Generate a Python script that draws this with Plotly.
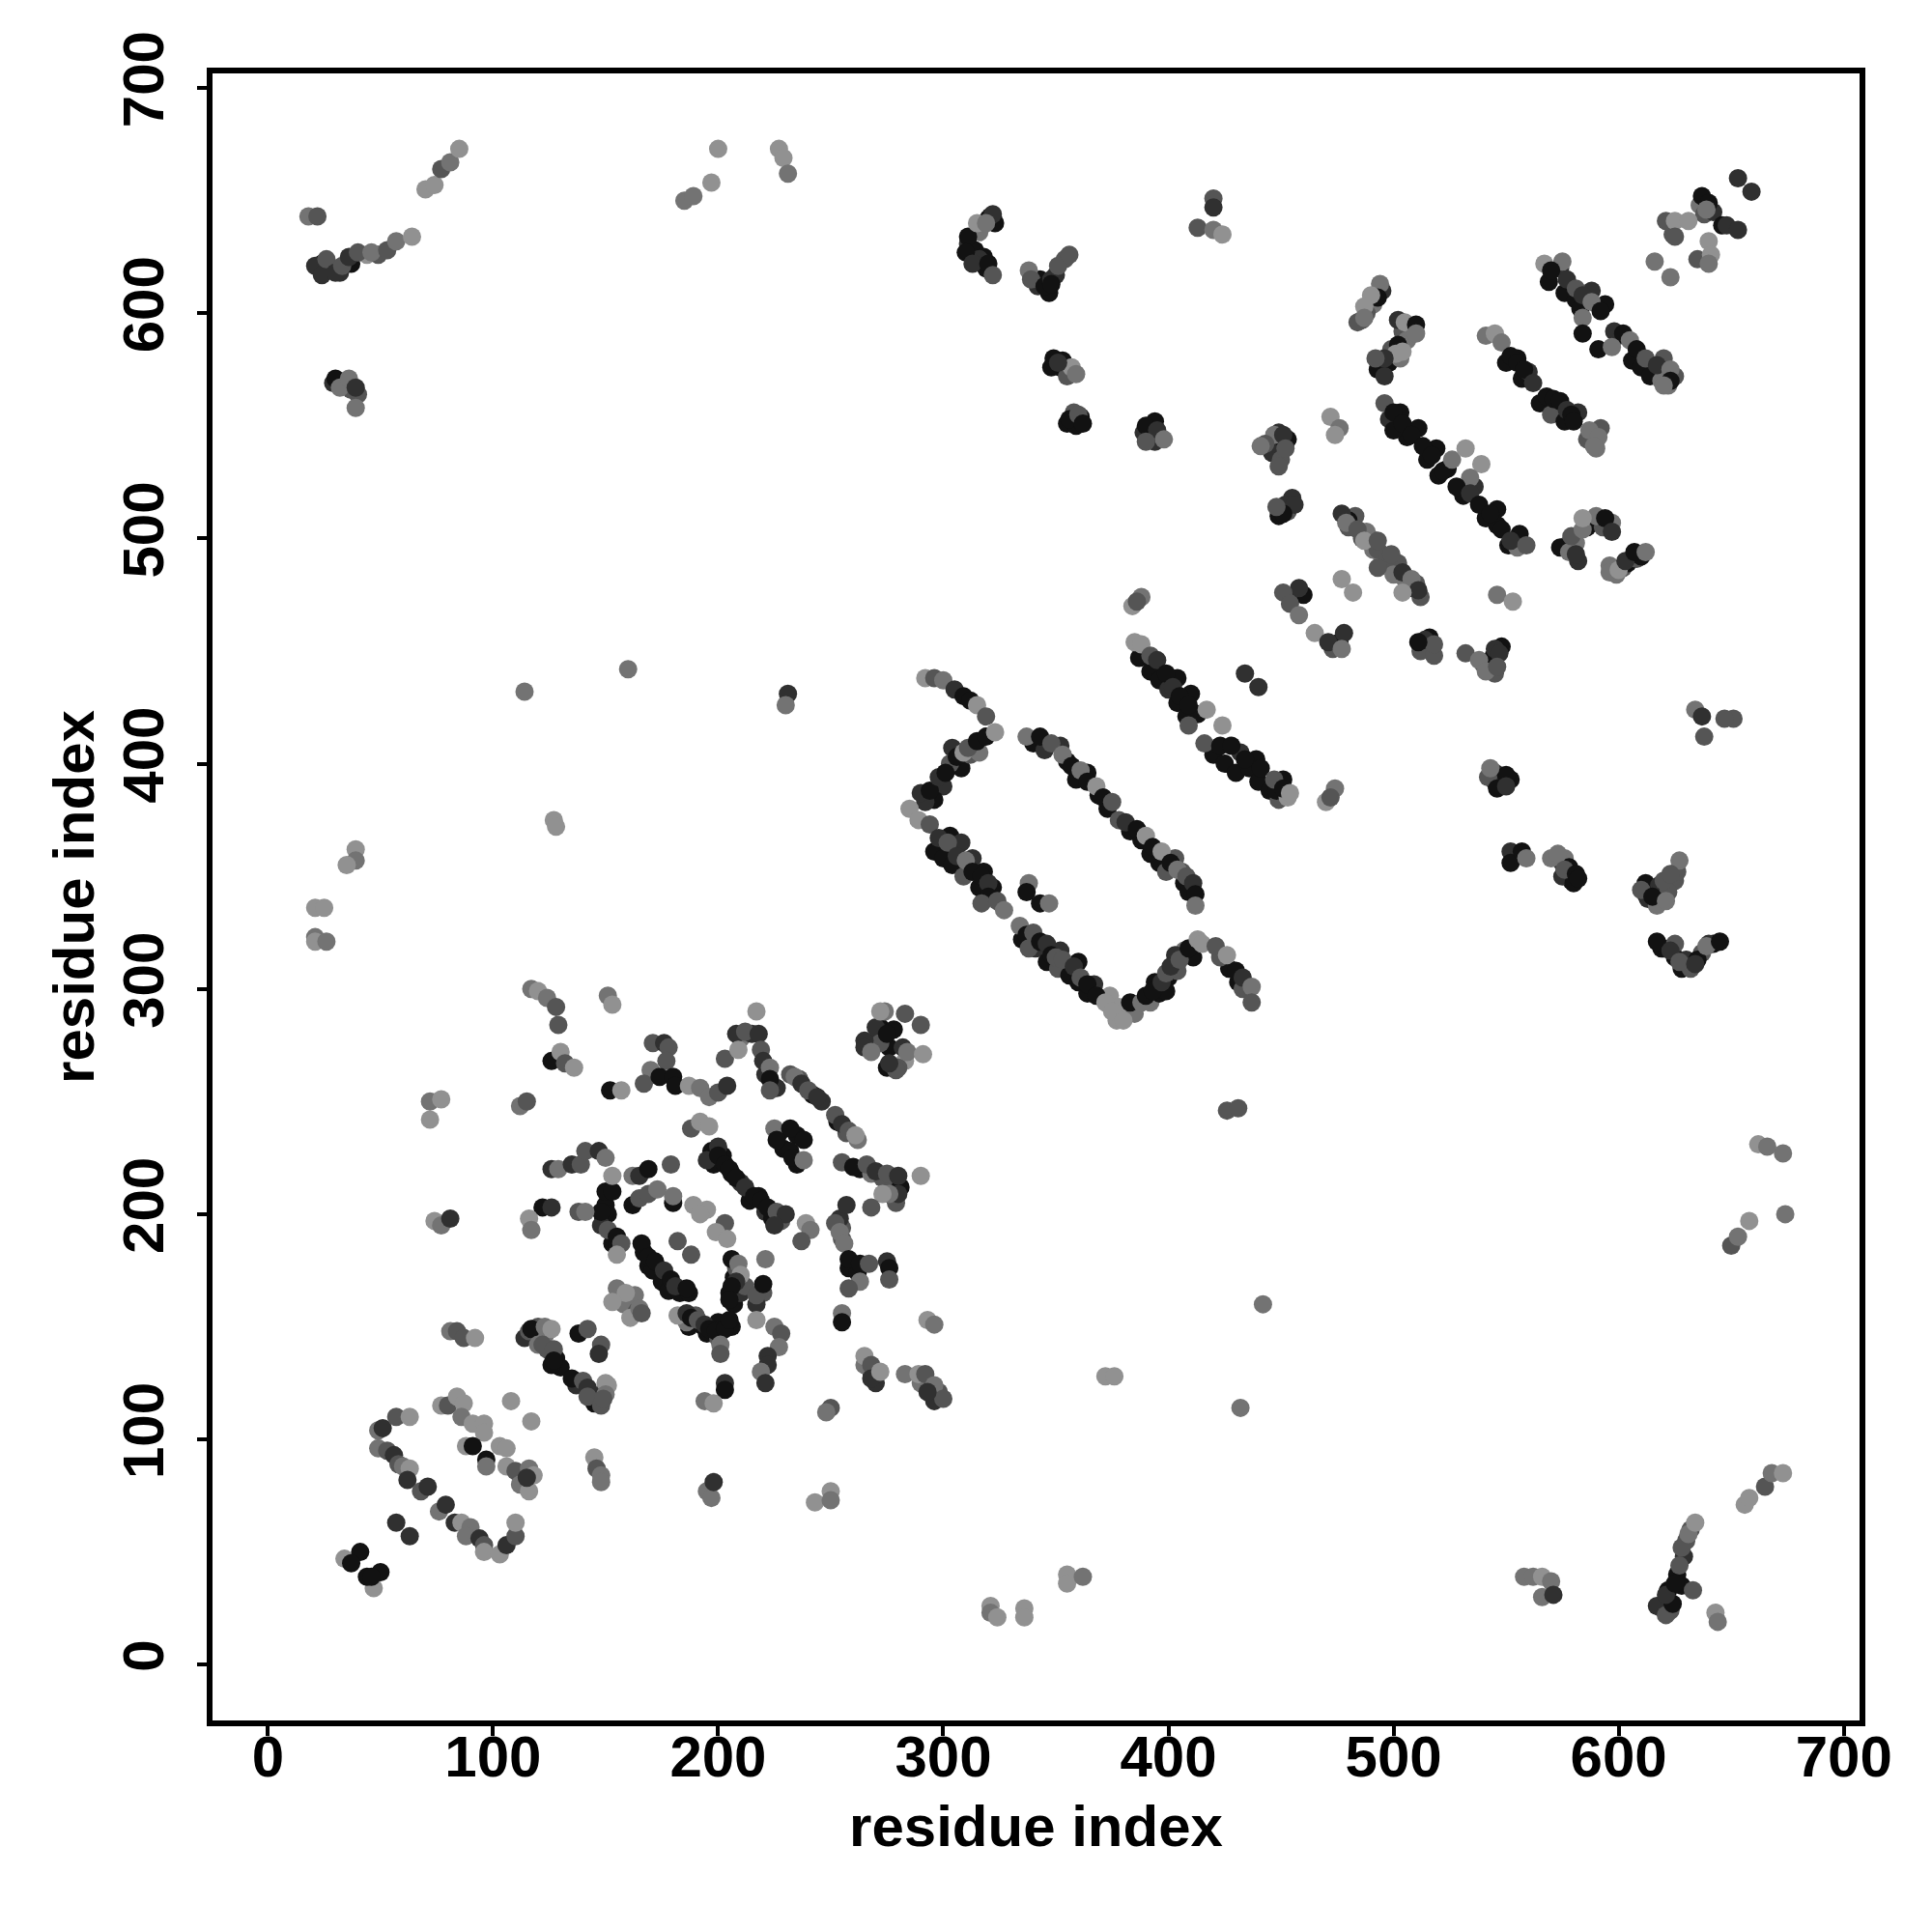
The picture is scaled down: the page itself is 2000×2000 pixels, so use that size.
import plotly.graph_objects as go

# every cluster: (residue i, residue j, grey level)
k, d, m, l, p = 18, 48, 85, 115, 145

band_fill_a = [(498,553,d),(503,556,k),(506,545,k),(511,549,k),(515,535,k),(519,540,k),(524,531,k),(520,528,k),(531,519,k),(536,523,d),(541,509,k),(546,513,k),
               (551,497,k),(556,502,k),(555,496,l),(546,506,k),(500,548,k),(550,578,k),(557,571,k),(555,580,k),(560,574,d),(565,560,k),(570,555,m),(576,552,k),
               (582,556,d),(586,544,m),(590,540,l),(592,549,m),(569,614,k),(574,620,d),(576,609,k),(581,606,k),(583,602,k),(588,610,d),(594,604,k),(600,590,k),
               (606,579,k),(610,576,k),(614,572,k),(619,570,l),(622,568,l),(620,580,m),(625,572,m)]
band_fill_b = [(340,409,k),(345,406,d),(352,408,d),(355,401,k),(359,393,k),(364,396,k),(369,386,k),(373,380,k),(378,375,m),(383,370,k),(388,366,k),(392,360,k),
               (396,356,k),(399,352,m),(403,358,m),(407,347,k),(409,343,k),(406,352,m),(387,447,k),(392,441,k),(396,437,k),(400,433,d),(404,427,k),(408,421,k),
               (404,438,k),(410,431,k),(413,422,k),(420,404,k),(425,400,k),(430,396,k),(436,398,k),(440,392,k),(445,388,k),(449,384,m),(451,393,k),(432,405,d),
               (439,402,k),(448,388,k),(453,385,p)]
band_fill_c = [(308,398,k),(312,404,m),(304,407,d),(300,390,d),(296,384,k),(292,383,d),(303,400,m),(316,405,l),(296,361,k),(300,358,k),(304,355,k),(309,350,m),
               (303,368,k),(308,365,d),(313,358,d),(316,345,k),(322,345,k),(318,352,k),(335,322,k),(341,318,d),(346,312,k),(351,309,m),(356,306,k),(360,303,k),
               (364,298,k),(352,317,d),(360,312,k),(367,302,d),(374,297,p),(378,292,p),(377,286,p),(385,289,l),(392,294,l),(396,298,k),(400,305,k),(404,308,m),
               (394,303,k),(399,299,k),(407,317,l),(403,315,d),(411,314,k),(427,309,k),(431,303,k),(423,314,m),(433,300,m)]
cluster_fill_a = [(311,631,d),(314,628,k),(316,636,l),(318,625,k),(321,643,k),(343,615,k),(347,609,k),(342,612,d),(350,617,d),(354,624,m),(352,576,k),(355,572,m),
                  (348,576,k),(355,551,k),(358,556,m),(359,550,k),(361,554,k),(392,546,k),(389,547,d),(394,543,d),(394,552,k),(24,622,k),(28,620,k),(32,618,d),
                  (37,622,k),(44,626,p),(49,626,m),(29,569,d),(37,566,m),(40,564,m)]
cluster_fill_b = [(545,392,k),(548,393,d),(552,393,k),(545,396,d),(555,360,k),(553,358,k),(576,351,k),(579,348,k),(575,356,d),(612,342,k),(617,340,d),(619,344,k),
                  (625,348,m),(620,318,k),(625,314,k),(630,313,d),(642,320,k),(637,316,m),(540,444,m),(544,447,k),(548,452,k),(545,440,m),(619,25,m),(622,33,k),
                  (623,24,m),(628,35,k),(626,40,k),(629,48,d),(630,55,m),(632,60,m),(633,33,m),(449,510,k),(453,512,m),(455,518,d),(480,505,m),(483,510,m),
                  (488,503,l),(491,495,l),(495,491,l),(502,489,m),(506,478,l),(510,480,m),(455,474,m),(460,475,k),(449,542,k),(446,538,d),(453,544,k),(450,535,m),
                  (473,451,m),(476,454,k),(515,451,k),(516,456,k),(512,450,m),(518,448,m),(449,547,d)]
core_fill = [(210,278,l),(215,280,d),(221,262,d),(226,256,d),(236,260,m),(242,253,k),(246,250,d),(253,241,k),(257,236,m),(262,233,l),(232,262,m),(263,220,k),
             (268,218,l),(273,216,m),(278,214,m),(281,212,k),(279,205,m),(227,236,k),(235,235,k),(229,229,k),(232,228,k),(235,222,k),(197,228,k),(198,222,k),
             (202,226,k),(206,218,k),(210,214,d),(214,206,k),(218,208,k),(221,201,d),(224,198,k),(228,197,m),(167,183,k),(169,177,k),(171,175,k),(175,170,k),
             (178,166,k),(183,165,k),(187,165,k),(150,204,k),(149,198,k),(151,200,k),(148,195,d),(153,187,k),(155,186,k),(258,176,k),(262,174,k),(255,189,m),
             (255,194,m),(254,198,d),(207,172,k),(205,165,k),(207,160,k),(210,165,d),(212,168,m),(208,176,m),(220,165,m),(217,160,d),(187,150,k),(192,151,k),
             (195,147,k),(200,147,k),(206,150,k),(200,152,k),(190,155,m),(186,152,l),(158,160,l),(164,157,m),(163,164,l),(200,145,m),(268,130,d),(265,133,l),
             (270,125,d),(298,121,m),(296,117,d),(290,125,l),(118,146,k),(114,145,d),(120,150,m),(123,146,l),(124,140,m),(128,136,k),(130,132,k),(126,133,k),
             (137,124,d),(143,119,k),(145,116,k),(148,120,d),(151,124,p)]
late_fill = [(268,276,d),(272,283,k),(276,274,k),(270,283,d),(274,290,l),(278,282,k),(283,268,p),(272,276,m),(280,265,m),(275,265,k),(279,264,m),(265,277,d),
             (612,347,k),(618,346,d),(622,343,m),(626,352,m),(613,340,d),(617,337,l),(619,318,k),(628,309,k),(632,309,m),(635,313,k),(640,320,d),(625,320,m),
             (570,358,l),(576,358,l),(578,354,k),(575,350,d),(580,347,k),(480,508,k),(486,500,m),(490,500,l),(493,495,m),(497,490,m),(500,484,l),(505,482,l),
             (509,478,k),(512,474,m),(577,497,m),(581,498,l),(586,505,k),(589,507,k),(593,505,m),(597,507,l),(582,490,d),(599,484,l),(602,487,m),(604,489,k),
             (608,491,m),(610,492,k),(596,488,l),(636,648,l),(638,644,m),(642,645,d),(624,635,m),(495,610,d),(491,604,l),(488,600,m),(486,597,m),(504,592,m),
             (507,590,m),(499,584,m),(495,576,m),(498,578,k),(503,580,l),(493,575,k),(506,588,l),(319,620,k),(316,624,d),(322,643,k),(320,642,k),(323,640,k)]

near_n = [(34,47,p),(47,34,p),(41,50,k),(37,45,k),(44,39,k),(50,41,k),(46,39,k),(57,63,d),(63,57,d)]
hairpin_a = [(49,104,l),(51,105,d),(57,110,m),(63,110,p),(49,96,l),(53,95,m),(56,93,d),(58,89,m),(60,88,l),(63,87,p),(62,82,d),
             (68,77,m),(71,79,d),(76,68,l),(79,71,d),(83,63,d),(86,63,p),(90,61,l),(88,57,l),(94,56,d),(96,53,m),(96,50,p),
             (103,49,p),(106,53,d),(110,57,m),(110,63,p)]
hairpin_b = [(77,115,p),(80,115,m),(84,119,p),(87,116,p),(86,110,l),(91,107,p),(96,107,p),(96,103,p),(88,97,p),(91,97,k),
             (97,91,k),(97,88,l),(103,97,p),(106,96,p),(106,88,p),(110,86,m),(116,87,l),(118,84,p),(112,80,l),(116,77,p),(115,83,d)]
low_bits = [(108,117,p),(117,108,p),(145,92,p),(146,87,m),(148,84,l),(148,81,l),(195,77,l),(197,74,l),(198,81,d),(243,72,p),
            (250,77,p),(250,73,l),(81,148,l),(84,148,m),(87,145,m),(92,145,p)]
block_a = [(116,148,m),(117,149,k),(123,150,l),(126,149,p),(120,142,l),(122,142,m),(127,140,m),(127,135,k),(138,147,k),(142,149,m),
           (148,142,m),(147,138,d),(135,127,k),(140,126,m),(142,123,d),(142,119,m),(148,115,m),(150,125,p),(150,120,l),(149,118,m)]
block_b = [(155,167,l),(159,165,p),(153,161,p),(161,154,p),(165,158,l),(166,156,m),(182,155,p),(186,156,d),(188,154,k),(191,153,m),
           (194,151,d),(196,149,k),(199,148,k),(203,149,k),(205,153,k),(201,142,l),(201,138,m),(203,125,d),(203,122,k),(194,117,l),
           (198,116,p),(217,153,p),(225,150,l),(228,147,m),(227,141,l),(222,137,d),(222,133,d),(219,130,l),(221,125,d),(255,156,l),
           (255,152,k),(265,137,p),(268,133,m),(268,127,d),(272,130,p),(283,129,l),(289,129,p),(292,129,m),(296,124,l),(300,118,m),
           (293,121,d),(250,114,m),(248,112,l),(293,153,p),(296,151,l)]
block_c = [(217,290,p),(208,280,d),(212,281,m),(218,280,d),(203,269,m),(209,273,p),(219,273,m),(220,268,d),(223,265,l),(223,260,k),
           (223,255,m),(234,261,l),(237,258,d),(240,255,m),(244,252,d),(252,244,m),(255,240,d),(258,237,m),(261,235,p),(255,223,m),
           (260,221,k),(266,222,m),(270,219,d),(275,218,m),(280,217,d),(280,209,d),(276,209,l),(273,209,p),(268,203,m),(290,217,p),
           (225,238,l),(232,238,k),(238,233,k),(226,233,k),(233,225,k),(238,224,l)]
central = [(200,230,d),(195,224,d),(200,226,k),(203,222,k),(205,220,k),(208,216,k),(212,212,d),(216,208,k),(219,206,k),(222,203,k),(226,201,m),
           (230,200,d),(225,195,d),(239,196,p),(241,193,l),(237,188,m),(257,204,d),(252,196,m),(254,192,l),(256,187,l),(258,180,k),
           (263,178,k),(267,178,m),(275,179,d),(276,176,k),(276,171,m),(263,170,l),(258,167,m),(221,180,l),(206,180,k),(209,178,l),
           (210,173,p),(208,170,d),(206,168,k),(205,162,k),(217,164,m),(220,169,k),(195,202,p),(189,204,p),(192,200,p),(203,196,m),(199,192,p),
           (204,189,p),(182,188,m),(188,182,m),(166,187,k),(169,181,k),(172,179,k),(176,175,d),(179,171,k),(181,168,d),(186,167,k),(150,210,k),(153,210,k),
           (148,201,k),(151,193,m),(155,190,k),(157,187,m),(155,182,p),(122,203,k),(126,203,d),(138,201,m),(141,201,l)]
left_c = [(116,198,p),(117,193,l),(74,197,p),(77,195,l),(81,198,d),(126,220,d),(129,220,l),(135,222,d),(139,222,m),(141,228,m),(147,228,d),
          (150,225,l),(153,217,p),(162,217,l),(165,217,d),(169,220,k),(179,222,m),(162,204,k),(165,207,m),(169,209,m),(173,211,l),(180,205,k),(180,208,l)]
upper_c = [(171,276,m),(176,276,d),(178,274,m),(177,268,m),(170,264,l),(167,258,m),(174,261,k),(180,261,k),(181,257,k),(187,257,p),(192,256,l),
           (196,252,l),(200,254,m),(204,257,d),(188,238,m),(192,241,p),(196,239,p),(152,255,k),(157,255,p),(112,248,l),(115,250,m),(72,242,p),
           (72,250,l),(77,251,p),(117,300,l),(120,299,p),(124,296,l),(128,292,m),(129,284,m),(151,297,l),(153,293,p),(126,268,k),(130,272,p),
           (132,267,m),(136,265,p),(272,290,p),(283,289,m),(290,284,m),(275,280,k),(265,274,d),(268,272,l),(282,274,d),(284,272,l),(291,271,p),(276,267,d)]
mid_a = [(292,438,p),(296,438,m),(300,437,l),(305,433,d),(309,430,k),(312,428,k),(315,426,p),(319,421,m),(290,387,d),(294,388,k),(298,394,d),(301,396,k),
         (306,403,k),(309,405,p),(311,407,m),(315,410,k),(319,412,k),(323,414,p),(285,380,p),(289,375,p),(294,373,m),(298,367,d),(302,365,m),(306,359,d),
         (310,357,l),(313,352,k),(317,350,k),(320,347,d),(320,341,k),(317,338,m),(324,339,m),(327,335,l),(338,347,l),(337,343,k),(343,338,k),(347,338,l)]
mid_b = [(334,328,l),(337,324,k),(340,325,m),(338,318,m),(343,321,k),(346,320,d),(348,315,k),(350,314,m),(353,313,m),(358,310,d),(361,305,m),(364,302,k),(368,297,k),(372,294,p),
         (375,290,p),(380,286,p),(383,294,k),(388,294,l),(390,297,k),(393,299,k),(397,303,d),(399,307,m),(401,310,d),(405,313,m),(409,318,k),(413,322,p),(415,320,p),(421,319,m),
         (426,315,p),(430,308,k),(433,305,d),(437,301,l),(437,294,m)]
mid_c = [(337,412,l),(343,412,k),(348,409,m),(353,404,l),(357,399,k),(361,397,l),(364,392,k),(368,390,p),(371,385,k),(375,383,m),(381,374,d),(386,371,k),
         (390,368,p),(393,363,k),(397,361,p),(401,356,k),(404,353,l),(408,350,m),(411,347,d),(412,342,k),(412,337,l),(385,454,p),(388,453,p),(392,448,m),(395,446,d),
         (399,440,k),(402,434,d),(405,430,k),(409,426,k),(417,424,p),(409,417,m),(416,409,m),(424,417,p),(423,408,k),(428,408,k),(434,402,k),(441,398,k),(447,393,m),
         (451,389,k),(454,387,p),(434,440,d),(440,434,d),(384,470,p),(388,474,l),(386,472,m),(470,383,p),(474,389,l),(472,385,m)]
upper_d = [(452,515,d),(456,515,d),(451,511,k),(448,514,m),(477,511,d),(479,507,l),(484,504,m),(487,499,p),(493,499,m),(499,493,m),(493,487,m),(504,485,d),
           (508,482,l),(511,477,d),(504,476,p),(477,482,p),(482,476,p),(458,478,d),(451,476,m),(454,471,m),(458,466,l),(465,458,p),(471,454,d),(478,458,d),
           (477,451,l),(514,455,d),(518,453,m),(511,454,k),(447,546,l),(451,546,d),(443,542,m),(452,540,m),(449,532,m),(441,541,l),(472,554,p),(476,549,l),(474,546,p)]
long_a = [(496,560,m),(500,556,k),(504,551,k),(508,546,k),(513,541,k),(517,537,k),(522,530,k),(526,535,l),(532,540,p),(539,533,p),(534,527,l),(528,523,k),
          (534,520,d),(538,515,k),(543,511,k),(548,504,k),(552,499,d),(559,497,m),(541,590,l),(545,591,p),(548,587,l),(552,581,k),(555,578,k),(558,575,k),(562,569,d),
          (568,563,k),(571,562,k),(574,561,k),(577,557,d),(579,555,k),(580,552,k),(587,548,l),(591,545,l),(589,541,l)]
long_b = [(567,622,p),(575,623,l),(570,619,k),(577,615,d),(581,611,m),(584,608,d),(588,605,l),(592,601,k),(584,598,l),(584,591,k),(591,584,k),(598,592,d),
          (602,591,k),(605,588,l),(597,585,l),(608,584,k),(612,580,m),(617,577,d),(623,575,l),(623,570,k),(620,568,l),(574,496,k),(578,494,l),(581,493,d),
          (579,501,m),(584,504,l),(590,510,l),(594,509,k),(597,503,d),(584,509,p),(596,485,l),(600,486,p),(603,490,d),(607,494,k),(612,494,l)]
top_right = [(653,660,d),(659,654,d),(637,652,k),(640,649,k),(639,646,l),(621,641,m),(625,641,p),(631,641,p),(625,634,m),(646,639,k),(648,639,d),(653,637,d),
             (640,632,p),(616,623,l),(623,616,l),(635,624,m),(641,626,p),(640,622,l),(494,613,l),(493,607,k),(490,608,p),(487,603,p),(484,596,m),(487,598,l),
             (502,597,d),(505,596,p),(510,595,k),(510,591,l),(502,586,k),(501,582,p),(496,580,d),(492,580,m),(496,572,d),(504,583,p)]
top_left = [(18,643,l),(22,643,m),(21,621,d),(24,617,d),(26,624,m),(30,618,d),(33,621,m),(36,625,d),(40,627,m),(46,627,l),(53,628,m),(57,632,l),(64,634,p),
            (70,655,p),(74,657,p),(77,664,m),(81,667,l),(85,673,p),(30,571,k),(32,567,l),(36,571,l),(39,567,d),(39,558,l),(185,650,l),(189,652,l),(197,658,p),
            (200,673,p),(227,673,p),(229,669,p),(231,662,l)]
top_mid = [(311,634,k),(310,627,k),(313,622,d),(320,622,k),(322,644,d),(315,640,p),(319,640,l),(322,617,m),(338,619,l),(339,615,m),(345,612,k),(348,615,d),
           (351,621,m),(356,626,m),(348,613,k),(349,580,k),(353,579,k),(357,576,p),(359,573,l),(351,578,d),(356,553,k),(360,555,m),(362,551,k),(390,550,k),(395,548,d),
           (398,544,l),(390,543,m),(413,638,m),(420,637,l),(420,651,m),(420,647,d),(424,635,p)]
sparse_left = [(160,442,l),(114,432,l),(231,431,d),(230,426,l),(127,375,p),(128,372,p),(39,362,p),(39,357,l),(35,355,p),(21,336,p),(25,336,p),(21,323,l),(21,321,p),(26,321,l)]
sparse_low = [(432,114,l),(442,160,l),(372,128,p),(376,128,p),(426,246,m),(431,247,m),(355,40,p),(355,36,p),(362,39,l),(321,26,p),(321,23,l),(324,21,p),(336,25,p),(336,21,p)]
low_right = [(558,39,l),(562,39,l),(566,39,p),(566,30,l),(570,37,l),(571,31,d),(617,26,d),(621,22,m),(624,27,k),(621,31,d),(625,36,k),(627,44,m),(628,52,m),(631,58,l),
             (634,63,p),(643,23,p),(644,19,l),(656,71,p),(658,74,p),(665,79,m),(668,85,l),(673,85,p)]
right_edge = [(650,186,m),(653,190,l),(658,197,p),(674,200,l),(662,231,p),(666,230,l),(673,227,l),(651,420,m),(647,420,m),(634,424,l),(637,421,d),(638,412,m),
              (542,394,m),(546,389,k),(550,395,k),(550,390,d),(543,398,l),(552,361,d),(552,356,k),(557,361,k),(559,358,l),(573,360,l),(576,353,m),(581,351,k),(582,349,k),
              (610,344,m),(615,341,k),(621,339,l),(620,348,m),(627,357,l),(623,351,m),(617,321,k),(623,317,d),(627,312,m),(634,311,d),(639,319,l),(645,321,k),
              (532,449,m),(538,446,l),(541,441,l),(545,451,d),(547,449,d),(546,443,m),(546,475,l),(553,472,p)]

clusters = [band_fill_a, band_fill_b, band_fill_c, cluster_fill_a, cluster_fill_b, core_fill, late_fill,
            near_n, hairpin_a, hairpin_b, low_bits, block_a, block_b, block_c, central, left_c, upper_c, mid_a, mid_b, mid_c,
            upper_d, long_a, long_b, top_right, top_left, top_mid, sparse_left, sparse_low, low_right, right_edge]
pts = [q for c in clusters for q in c]
xs = [q[0] for q in pts]
ys = [q[1] for q in pts]
cols = [f"rgb({q[2]},{q[2]},{q[2]})" for q in pts]

fig = go.Figure(go.Scatter(x=xs, y=ys, mode="markers", marker=dict(size=19, color=cols, line=dict(width=0)), hoverinfo="skip"))
font = dict(family="Liberation Sans", size=60, color="black", weight="bold")
ax = dict(showgrid=False, zeroline=False, showline=True, mirror=True, linecolor="black", linewidth=6,
          ticks="outside", ticklen=10, tickwidth=4, tickcolor="black", tickfont=font,
          tickvals=[0, 100, 200, 300, 400, 500, 600, 700])
fig.update_layout(width=2000, height=2000, plot_bgcolor="white", paper_bgcolor="white", showlegend=False,
                  margin=dict(l=212, r=83, t=68, b=227),
                  xaxis=dict(ax, range=[-24.6, 707], ticklabelstandoff=-30, title=dict(text="residue index", font=font, standoff=20)),
                  yaxis=dict(ax, range=[-24.8, 706.5], tickangle=-90, ticklabelstandoff=11, title=dict(text="residue index", font=font, standoff=0)))
fig.write_html("out.html", config={"displayModeBar": False})
